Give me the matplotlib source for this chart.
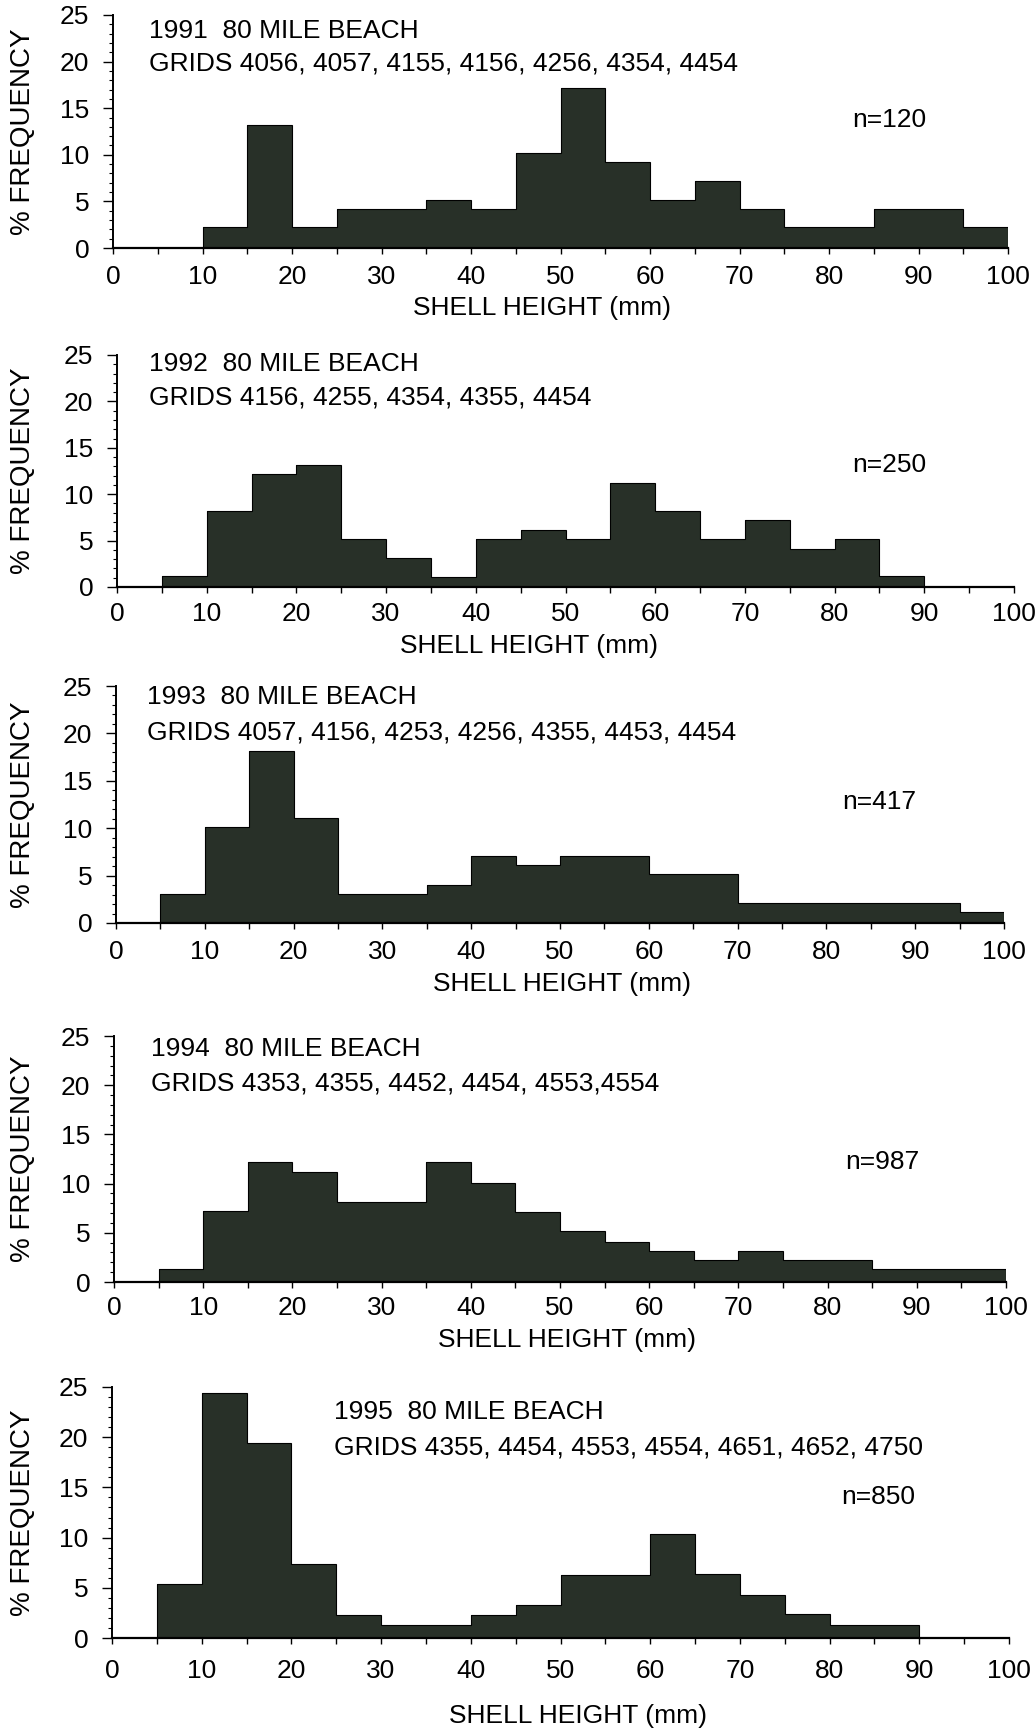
import numpy as np
import matplotlib
matplotlib.use('Agg')
import matplotlib.pyplot as plt
from matplotlib.ticker import MultipleLocator

plt.rcParams['font.family'] = ['Liberation Sans', 'DejaVu Sans']

# 5 mm shell height classes, 0-100 mm
edges = np.arange(0, 105, 5)

years = ['1991', '1992', '1993', '1994', '1995']
grids = [
    'GRIDS 4056, 4057, 4155, 4156, 4256, 4354, 4454',
    'GRIDS 4156, 4255, 4354, 4355, 4454',
    'GRIDS 4057, 4156, 4253, 4256, 4355, 4453, 4454',
    'GRIDS 4353, 4355, 4452, 4454, 4553,4554',
    'GRIDS 4355, 4454, 4553, 4554, 4651, 4652, 4750',
]
n_counts = [120, 250, 417, 987, 850]

freq_1991 = [0, 0, 2.3, 13.2, 2.3, 4.2, 4.2, 5.2, 4.2, 10.2,
             17.2, 9.2, 5.2, 7.2, 4.2, 2.3, 2.3, 4.2, 4.2, 2.3]
freq_1992 = [0, 1.2, 8.2, 12.2, 13.2, 5.2, 3.1, 1.1, 5.2, 6.1,
             5.2, 11.2, 8.2, 5.2, 7.2, 4.1, 5.2, 1.2, 0, 0]
freq_1993 = [0, 3.1, 10.1, 18.1, 11.1, 3.1, 3.1, 4.0, 7.1, 6.1,
             7.1, 7.1, 5.2, 5.2, 2.1, 2.1, 2.1, 2.1, 2.1, 1.15]
freq_1994 = [0, 1.3, 7.2, 12.2, 11.2, 8.1, 8.1, 12.2, 10.1, 7.1,
             5.2, 4.1, 3.2, 2.2, 3.2, 2.2, 2.2, 1.3, 1.3, 1.3]
freq_1995 = [0, 5.4, 24.4, 19.4, 7.4, 2.3, 1.3, 1.3, 2.3, 3.3,
             6.3, 6.3, 10.4, 6.4, 4.3, 2.4, 1.3, 1.3, 0, 0]
freqs = [freq_1991, freq_1992, freq_1993, freq_1994, freq_1995]

# layout in pixels: axes box (left, top, right, bottom), title x/y, n x/y, xlabel x/y
W, H = 1036, 1728
boxes = [(113, 15, 1008, 248), (117, 355, 1014, 587), (116, 686, 1004, 923),
         (114, 1036, 1006, 1282), (112, 1387, 1009, 1638)]
title_pos = [(149, 31, 63), (149, 364, 397), (147, 697, 732),
             (151, 1049, 1083), (334, 1412, 1447)]
n_pos = [(889, 120), (889, 465), (879, 802), (882, 1162), (878, 1497)]
xlab_pos = [(542, 308), (529, 646), (562, 984), (567, 1340), (578, 1716)]
tick_pad = [8, 7, 8, 6, 11]

bar_color = '#283028'

fig = plt.figure(figsize=(W / 100, H / 100), dpi=100)

for i in range(5):
    l, t, r, b = boxes[i]
    ax = fig.add_axes([l / W, 1 - b / H, (r - l) / W, (b - t) / H])
    ax.stairs(freqs[i], edges, fill=True, color=bar_color, lw=0)
    ax.stairs(freqs[i], edges, baseline=0, color='black', lw=0.8)

    ax.set_xlim(0, 100)
    ax.set_ylim(0, 25)
    ax.spines['top'].set_visible(False)
    ax.spines['right'].set_visible(False)
    ax.spines['left'].set_linewidth(1.4)
    ax.spines['bottom'].set_linewidth(1.6)

    ax.xaxis.set_major_locator(MultipleLocator(10))
    ax.xaxis.set_minor_locator(MultipleLocator(5))
    ax.yaxis.set_major_locator(MultipleLocator(5))
    ax.yaxis.set_minor_locator(MultipleLocator(1))
    ax.tick_params(axis='x', which='both', direction='out', length=4, width=1,
                   labelsize=19, pad=tick_pad[i])
    ax.tick_params(axis='y', which='major', direction='out', length=7, width=1,
                   labelsize=19, pad=10)
    ax.tick_params(axis='y', which='minor', direction='out', length=3, width=0.8)

    tx, ty1, ty2 = title_pos[i]
    fig.text(tx / W, 1 - ty1 / H, years[i] + '  80 MILE BEACH', fontsize=19,
             ha='left', va='center')
    fig.text(tx / W, 1 - ty2 / H, grids[i], fontsize=19, ha='left', va='center')
    nx, ny = n_pos[i]
    fig.text(nx / W, 1 - ny / H, 'n=%d' % n_counts[i], fontsize=19,
             ha='center', va='center')
    xx, xy = xlab_pos[i]
    fig.text(xx / W, 1 - xy / H, 'SHELL HEIGHT (mm)', fontsize=19,
             ha='center', va='center')
    fig.text(23 / W, 1 - (t + b) / 2 / H, '% FREQUENCY', fontsize=20,
             rotation=90, ha='center', va='center')

fig.savefig('out.png', dpi=100)
